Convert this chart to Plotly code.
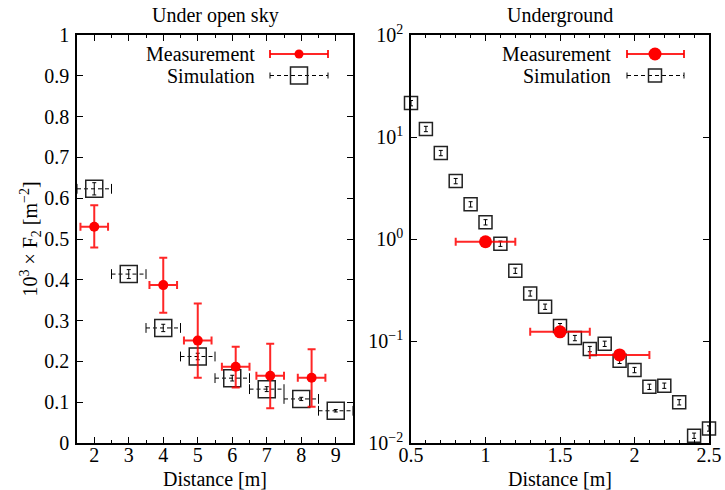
import plotly.graph_objects as go
from plotly.subplots import make_subplots

# ---------------- data ----------------
# Left panel: under open sky
sky_meas_x = [2.0, 4.0, 5.0, 6.1, 7.1, 8.3]
sky_meas_y = [0.530, 0.387, 0.251, 0.187, 0.165, 0.160]
sky_meas_yplus = [0.053, 0.067, 0.091, 0.049, 0.078, 0.070]
sky_meas_yminus = [0.051, 0.068, 0.091, 0.051, 0.080, 0.071]
sky_meas_xerr = [0.4, 0.4, 0.4, 0.4, 0.4, 0.4]

sky_sim_x = [2, 3, 4, 5, 6, 7, 8, 9]
sky_sim_y = [0.623, 0.414, 0.282, 0.212, 0.159, 0.132, 0.108, 0.079]
sky_sim_yerr = [0.015, 0.011, 0.009, 0.008, 0.007, 0.006, 0.004, 0.003]
sky_sim_xerr = [0.5, 0.5, 0.5, 0.5, 0.5, 0.5, 0.5, 0.5]

# Right panel: underground
und_meas_x = [1.0, 1.5, 1.9]
und_meas_y = [0.94, 0.123, 0.073]
und_meas_yerr = [0.03, 0.005, 0.003]
und_meas_xerr = [0.2, 0.2, 0.2]

und_sim_x = [0.5, 0.6, 0.7, 0.8, 0.9, 1.0, 1.1, 1.2, 1.3, 1.4, 1.5,
             1.6, 1.7, 1.8, 1.9, 2.0, 2.1, 2.2, 2.3, 2.4, 2.5]
und_sim_y = [21.5, 12.0, 6.97, 3.7, 2.19, 1.46, 0.90, 0.489, 0.293, 0.217, 0.140,
             0.107, 0.0835, 0.094, 0.064, 0.052, 0.0356, 0.0365, 0.0251, 0.0118, 0.0139]
und_sim_yerr = [v * 0.06 for v in und_sim_y]

# tick labels
und_y_tickvals = [0.01, 0.1, 1, 10, 100]
und_y_ticktext = ["10<sup>−2</sup>", "10<sup>−1</sup>", "10<sup>0</sup>",
                  "10<sup>1</sup>", "10<sup>2</sup>"]

titles = ["Under open sky", "Underground"]
legend_labels = ["Measurement", "Simulation"]
x_title = "Distance [m]"
y_title = "10<sup>3</sup> × F<sub>2</sub> [m<sup>−2</sup>]"

# ---------------- styling ----------------
FONT = "Liberation Serif, Times New Roman, serif"
RED = "#ff0000"
RED_ERR = "rgba(255,0,0,0.85)"
BLACK = "#000000"
W, H = 725, 490
ML, MR, MT, MB = 77, 16, 35, 47
PW, PH = W - ML - MR, H - MT - MB


def px(x):
    return (x - ML) / PW


def py(y):
    return (H - MB - y) / PH


fig = make_subplots(rows=1, cols=2, horizontal_spacing=0.093)
fig.update_xaxes(domain=[0, px(353)], row=1, col=1)
fig.update_xaxes(domain=[px(411), 1], row=1, col=2)


def dashed_segments(xs, ys, errs):
    sx, sy = [], []
    for x, y, e in zip(xs, ys, errs):
        sx += [x - e, x + e, None]
        sy += [y, y, None]
    return sx, sy


# ---- left panel ----
sx, sy = dashed_segments(sky_sim_x, sky_sim_y, sky_sim_xerr)
fig.add_trace(go.Scatter(x=sx, y=sy, mode="lines", line=dict(color=BLACK, width=1, dash="4px,3px"),
                         showlegend=False, hoverinfo="skip", cliponaxis=False), row=1, col=1)
cap_x = [x - e for x, e in zip(sky_sim_x, sky_sim_xerr)] + [x + e for x, e in zip(sky_sim_x, sky_sim_xerr)]
cap_y = sky_sim_y + sky_sim_y
fig.add_trace(go.Scatter(x=cap_x, y=cap_y, mode="markers",
                         marker=dict(symbol="line-ns", size=7, line=dict(color=BLACK, width=1)),
                         showlegend=False, hoverinfo="skip", cliponaxis=False), row=1, col=1)
fig.add_trace(go.Scatter(x=sky_sim_x, y=sky_sim_y, mode="markers",
                         marker=dict(symbol="square-open", size=17, color="#222222", line=dict(width=1.5)),
                         error_y=dict(type="data", array=sky_sim_yerr, color=BLACK, thickness=1, width=2),
                         showlegend=False, cliponaxis=False), row=1, col=1)
fig.add_trace(go.Scatter(x=sky_meas_x, y=sky_meas_y, mode="markers",
                         marker=dict(symbol="circle", size=10, color=RED),
                         error_y=dict(type="data", symmetric=False, array=sky_meas_yplus,
                                      arrayminus=sky_meas_yminus, color=RED_ERR, thickness=2, width=4),
                         error_x=dict(type="data", array=sky_meas_xerr, color=RED_ERR, thickness=2, width=4),
                         showlegend=False, cliponaxis=False), row=1, col=1)

# ---- right panel ----
fig.add_trace(go.Scatter(x=und_sim_x, y=und_sim_y, mode="markers",
                         marker=dict(symbol="square-open", size=13, color="#222222", line=dict(width=1.5)),
                         error_y=dict(type="data", array=und_sim_yerr, color=BLACK, thickness=1, width=2),
                         showlegend=False, cliponaxis=False), row=1, col=2)
fig.add_trace(go.Scatter(x=und_meas_x, y=und_meas_y, mode="markers",
                         marker=dict(symbol="circle", size=13, color=RED),
                         error_y=dict(type="data", array=und_meas_yerr, color=RED_ERR, thickness=2, width=4),
                         error_x=dict(type="data", array=und_meas_xerr, color=RED_ERR, thickness=2, width=4),
                         showlegend=False, cliponaxis=False), row=1, col=2)

axis_common = dict(showline=True, linecolor=BLACK, linewidth=1.5, mirror="ticks",
                   ticks="inside", ticklen=6, tickwidth=1, tickcolor=BLACK,
                   showgrid=False, zeroline=False,
                   tickfont=dict(family=FONT, size=20, color=BLACK), automargin=False)

fig.update_xaxes(axis_common)
fig.update_yaxes(axis_common)

fig.update_xaxes(range=[1.5, 9.5], dtick=1, tick0=0, ticklabelstandoff=-7,
                 minor=dict(dtick=0.5, tick0=0, ticks="inside", ticklen=3, tickcolor=BLACK),
                 title=dict(text=x_title, font=dict(family=FONT, size=20, color=BLACK), standoff=9),
                 row=1, col=1)
fig.update_yaxes(range=[0, 1], dtick=0.1, tick0=0,
                 title=dict(text=y_title, font=dict(family=FONT, size=20, color=BLACK), standoff=1),
                 ticklabelstandoff=2, row=1, col=1)
fig.update_xaxes(range=[0.5, 2.5], dtick=0.5, tick0=0, ticklabelstandoff=-7,
                 minor=dict(dtick=0.1, tick0=0, ticks="inside", ticklen=3, tickcolor=BLACK),
                 title=dict(text=x_title, font=dict(family=FONT, size=20, color=BLACK), standoff=9),
                 row=1, col=2)
fig.update_yaxes(type="log", range=[-2, 2], tickvals=und_y_tickvals, ticktext=und_y_ticktext,
                 ticklabelstandoff=2, row=1, col=2)

# ---- subplot titles ----
for i, (cx) in enumerate([(77 + 353) / 2, (411 + 709) / 2]):
    fig.add_annotation(text=titles[i], x=px(cx), y=py(16), xref="paper", yref="paper",
                       xanchor="center", yanchor="middle", showarrow=False,
                       font=dict(family=FONT, size=20, color=BLACK))

# ---- legends (text on the left, sample on the right) ----
def add_legend(text_right, y1, y2, l0, l1, mcx, msize, ssize):
    fig.add_annotation(text=legend_labels[0], x=px(text_right), y=py(y1), xref="paper", yref="paper",
                       xanchor="right", yanchor="middle", showarrow=False,
                       font=dict(family=FONT, size=20, color=BLACK))
    fig.add_annotation(text=legend_labels[1], x=px(text_right), y=py(y2), xref="paper", yref="paper",
                       xanchor="right", yanchor="middle", showarrow=False,
                       font=dict(family=FONT, size=20, color=BLACK))
    # measurement sample
    fig.add_shape(type="line", xref="paper", yref="paper", x0=px(l0), x1=px(l1), y0=py(y1), y1=py(y1),
                  line=dict(color=RED_ERR, width=2))
    for lx in (l0, l1):
        fig.add_shape(type="line", xref="paper", yref="paper", x0=px(lx), x1=px(lx),
                      y0=py(y1 - 4), y1=py(y1 + 4), line=dict(color=RED_ERR, width=2))
    r = msize / 2
    fig.add_shape(type="circle", xref="paper", yref="paper", x0=px(mcx - r), x1=px(mcx + r),
                  y0=py(y1 + r), y1=py(y1 - r), fillcolor=RED, line=dict(color=RED, width=0))
    # simulation sample
    fig.add_shape(type="line", xref="paper", yref="paper", x0=px(l0), x1=px(l1), y0=py(y2), y1=py(y2),
                  line=dict(color=BLACK, width=1, dash="4px,3px"))
    for lx in (l0, l1):
        fig.add_shape(type="line", xref="paper", yref="paper", x0=px(lx), x1=px(lx),
                      y0=py(y2 - 3), y1=py(y2 + 3), line=dict(color=BLACK, width=1))
    s = ssize / 2
    fig.add_shape(type="rect", xref="paper", yref="paper", x0=px(mcx - s), x1=px(mcx + s),
                  y0=py(y2 + s), y1=py(y2 - s), line=dict(color="#222222", width=1.5))


add_legend(257, 54, 75.5, 270, 328, 299, 9, 17)
add_legend(613, 54, 75.5, 627, 684, 655, 13, 13)

fig.update_layout(width=W, height=H, margin=dict(l=ML, r=MR, t=MT, b=MB),
                  paper_bgcolor="white", plot_bgcolor="white",
                  font=dict(family=FONT, size=20, color=BLACK), showlegend=False)

fig.write_html("out.html", config={"displayModeBar": False},
               post_script="document.body.style.margin='0';document.body.style.overflow='hidden';")
